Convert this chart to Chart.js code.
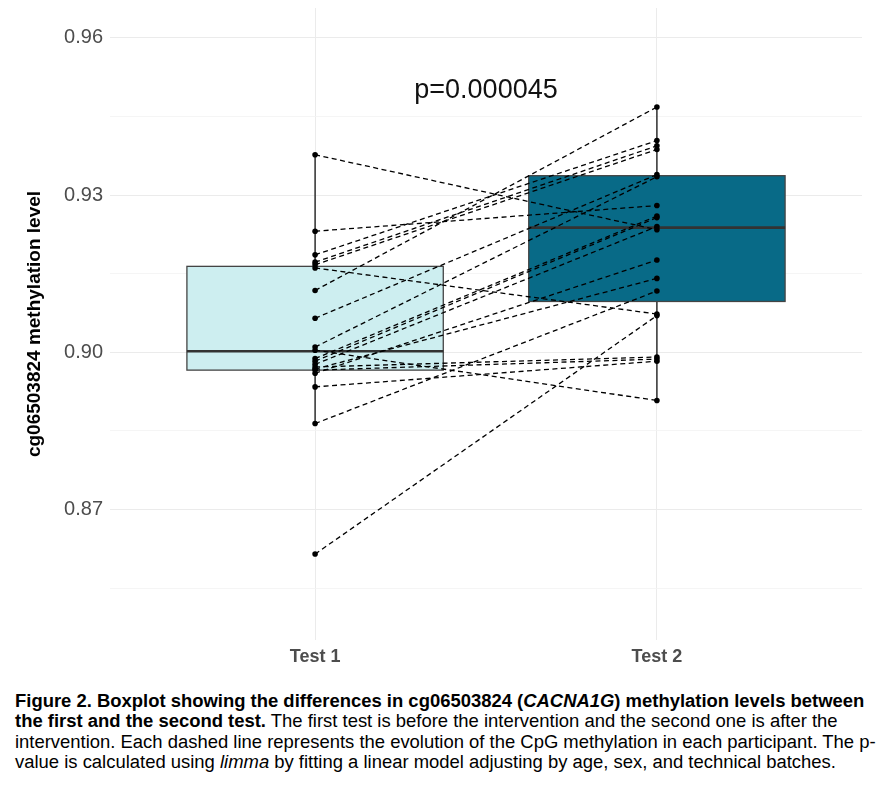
<!DOCTYPE html>
<html>
<head>
<meta charset="utf-8">
<script src="https://cdn.jsdelivr.net/npm/chart.js@4"></script>
<style>
    body { margin: 0; background: #fff; }
    #wrap { position: relative; width: 878px; height: 680px; }
    .caption {
        margin: 11px 0 0 15px;
        font-family: "Liberation Sans", Arial, sans-serif;
        font-size: 18.45px;
        line-height: 20.3px;
        color: #000;
        white-space: nowrap;
    }
</style>
</head>
<body>
<div id="wrap"><canvas id="boxChart"></canvas></div>
<div class="caption">
<b>Figure 2. Boxplot showing the differences in cg06503824 (<i>CACNA1G</i>) methylation levels between</b><br>
<b>the first and the second test.</b> The first test is before the intervention and the second one is after the<br>
intervention. Each dashed line represents the evolution of the CpG methylation in each participant. The p-<br>
value is calculated using <i>limma</i> by fitting a linear model adjusting by age, sex, and technical batches.
</div>
<script>
// categories and paired values (same index = same participant)
const categories = ['Test 1', 'Test 2'];
const test1 = [0.9377, 0.9231, 0.9186, 0.9172, 0.9167, 0.9161, 0.9118, 0.9065, 0.9010, 0.9004,
               0.8988, 0.8983, 0.8977, 0.8972, 0.8966, 0.8960, 0.8934, 0.8864, 0.8615, 0.8968];
const test2 = [0.9234, 0.9280, 0.9404, 0.9394, 0.9387, 0.9073, 0.9468, 0.9339, 0.9335, 0.8908,
               0.9260, 0.9257, 0.9240, 0.8991, 0.8987, 0.9176, 0.8983, 0.9117, 0.9070, 0.9141];

// box statistics per category
const boxQ1 = [0.8966, 0.9097];
const boxMedian = [0.9002, 0.9238];
const boxQ3 = [0.9164, 0.9337];
const whiskerLow = [0.8864, 0.8908];
const whiskerHigh = [0.9377, 0.9468];
const boxFill = ['#cdeef0', '#086a87'];

// y axis
const yTicks = [0.855, 0.87, 0.885, 0.90, 0.915, 0.93, 0.945, 0.96];
const yLabelled = [0.87, 0.90, 0.93, 0.96];
const pLabel = 'p=0.000045';
const pPos = [1.5, 0.9499];

const isMajor = v => yLabelled.some(m => Math.abs(m - v) < 1e-6);

// boxes, whiskers and p-value drawn through the chart scales
const boxPlugin = {
    id: 'boxes',
    beforeDatasetsDraw(chart) {
        const { ctx, scales: { x, y } } = chart;
        ctx.save();
        categories.forEach((c, i) => {
            const cx = x.getPixelForValue(i + 1);
            const l = x.getPixelForValue(i + 1 - 0.375);
            const r = x.getPixelForValue(i + 1 + 0.375);
            // whiskers
            ctx.strokeStyle = '#222';
            ctx.lineWidth = 1.4;
            ctx.beginPath();
            ctx.moveTo(cx, y.getPixelForValue(whiskerHigh[i]));
            ctx.lineTo(cx, y.getPixelForValue(boxQ3[i]));
            ctx.moveTo(cx, y.getPixelForValue(boxQ1[i]));
            ctx.lineTo(cx, y.getPixelForValue(whiskerLow[i]));
            ctx.stroke();
            // box
            const top = y.getPixelForValue(boxQ3[i]);
            const bot = y.getPixelForValue(boxQ1[i]);
            ctx.fillStyle = boxFill[i];
            ctx.fillRect(l, top, r - l, bot - top);
            ctx.strokeStyle = '#444';
            ctx.lineWidth = 1.3;
            ctx.strokeRect(l, top, r - l, bot - top);
            // median
            ctx.strokeStyle = '#333';
            ctx.lineWidth = 2.6;
            ctx.beginPath();
            ctx.moveTo(l, y.getPixelForValue(boxMedian[i]));
            ctx.lineTo(r, y.getPixelForValue(boxMedian[i]));
            ctx.stroke();
        });
        ctx.fillStyle = '#111';
        ctx.font = '27px "Liberation Sans", Arial, sans-serif';
        ctx.textAlign = 'center';
        ctx.textBaseline = 'middle';
        ctx.fillText(pLabel, x.getPixelForValue(pPos[0]), y.getPixelForValue(pPos[1]));
        ctx.restore();
    }
};

document.addEventListener('DOMContentLoaded', () => {
    const datasets = test1.map((v, i) => ({
        data: [{ x: 1, y: v }, { x: 2, y: test2[i] }],
        showLine: true,
        borderColor: '#000',
        borderWidth: 1.3,
        borderDash: [5, 3.5],
        pointRadius: 0,
        order: 1
    }));
    // all points on top of the lines
    datasets.push({
        data: test1.map(v => ({ x: 1, y: v })).concat(test2.map(v => ({ x: 2, y: v }))),
        pointRadius: 2.8,
        pointBackgroundColor: '#000',
        pointBorderWidth: 0,
        order: 0
    });

    new Chart(document.getElementById('boxChart'), {
        type: 'scatter',
        data: { datasets },
        plugins: [boxPlugin],
        options: {
            responsive: true,
            maintainAspectRatio: false,
            animation: false,
            layout: { padding: { top: 8, right: 16, bottom: 0, left: 0 } },
            plugins: { legend: { display: false }, tooltip: { enabled: false } },
            scales: {
                x: {
                    type: 'linear',
                    min: 0.4,
                    max: 2.6,
                    afterBuildTicks: s => { s.ticks = [{ value: 1 }, { value: 2 }]; },
                    afterFit: s => { s.height = 40; s.paddingLeft = 0; s.paddingRight = 0; },
                    border: { display: false },
                    grid: { color: '#ebebeb', lineWidth: 1, drawTicks: false },
                    ticks: {
                        padding: 6,
                        color: '#4d4d4d',
                        font: { family: '"Liberation Sans", Arial, sans-serif', size: 18, weight: 'bold' },
                        callback: v => categories[v - 1]
                    }
                },
                y: {
                    min: 0.8451,
                    max: 0.9657,
                    afterBuildTicks: s => { s.ticks = yTicks.map(v => ({ value: v })); },
                    afterFit: s => { s.width = 110; s.paddingTop = 0; s.paddingBottom = 0; },
                    border: { display: false },
                    grid: {
                        drawTicks: false,
                        color: ctx => isMajor(ctx.tick.value) ? '#ebebeb' : '#f3f3f3',
                        lineWidth: ctx => isMajor(ctx.tick.value) ? 1.1 : 0.8
                    },
                    ticks: {
                        padding: 7,
                        color: '#4d4d4d',
                        font: { family: '"Liberation Sans", Arial, sans-serif', size: 20 },
                        callback: v => isMajor(v) ? v.toFixed(2) : ''
                    },
                    title: {
                        display: true,
                        text: 'cg06503824 methylation level',
                        color: '#000',
                        font: { family: '"Liberation Sans", Arial, sans-serif', size: 19, weight: 'bold' },
                        padding: { top: 23, bottom: 0 }
                    }
                }
            }
        }
    });
});
</script>
</body>
</html>
